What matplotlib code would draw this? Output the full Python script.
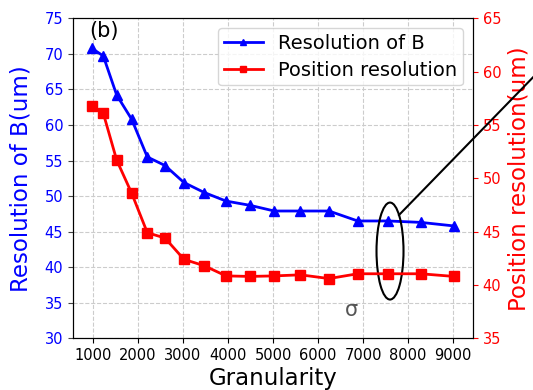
import matplotlib
matplotlib.use("Agg")
import matplotlib.pyplot as plt
from matplotlib.patches import Ellipse
from matplotlib.lines import Line2D

granularity = [971, 1229, 1527, 1860, 2207, 2600, 3022, 3473, 3956, 4489,
               5029, 5611, 6244, 6882, 7562, 8282, 9022]
res_B = [70.8, 69.7, 64.2, 60.8, 55.5, 54.3, 51.9, 50.5, 49.3, 48.7,
         47.9, 47.9, 47.9, 46.5, 46.5, 46.3, 45.8]
pos_res = [56.8, 56.1, 51.7, 48.6, 44.9, 44.4, 42.4, 41.8, 40.85, 40.8,
           40.85, 40.95, 40.6, 41.05, 41.05, 41.05, 40.8]
x_ticks = [1000, 2000, 3000, 4000, 5000, 6000, 7000, 8000, 9000]
left_ticks = [30, 35, 40, 45, 50, 55, 60, 65, 70, 75]
right_ticks = [35, 40, 45, 50, 55, 60, 65]

W, H = 533, 390
fig = plt.figure(figsize=(W / 100, H / 100), dpi=100)
ax = fig.add_axes([73 / W, 1 - 338.3 / H, 400 / W, 320 / H])
ax2 = ax.twinx()

l1, = ax.plot(granularity, res_B, color='blue', marker='^', markersize=7,
              linewidth=2, label='Resolution of B')
l2, = ax2.plot(granularity, pos_res, color='red', marker='s', markersize=7,
               linewidth=2, label='Position resolution')

ax.set_xlim(556, 9444)
ax.set_ylim(30, 75)
ax2.set_ylim(35, 65)
ax.set_xticks(x_ticks)
ax.set_yticks(left_ticks)
ax2.set_yticks(right_ticks)

ax.grid(True, linestyle='--', color='#cccccc', linewidth=0.8)
ax.tick_params(axis='x', labelsize=10.5)
ax.tick_params(axis='y', labelsize=10.5, colors='blue')
ax2.tick_params(axis='y', labelsize=10.5, colors='red')
ax.tick_params(axis='y', color='#444444')
ax2.tick_params(axis='y', color='red')

ax.set_xlabel('Granularity', fontsize=16.5, labelpad=3)
ax.set_ylabel('Resolution of B(um)', fontsize=16.5, color='blue')
ax2.set_ylabel('Position resolution(um)', fontsize=16.5, color='red')
ax.yaxis.set_label_coords(-0.1, 0.5)
ax2.yaxis.set_label_coords(1.0875, 0.5)

ax2.legend([l1, l2], ['Resolution of B', 'Position resolution'],
           loc='upper right', fontsize=14, markerscale=0.55, borderpad=0.3,
           labelspacing=0.4)

ax.text(0.04, 0.99, '(b)', transform=ax.transAxes, fontsize=15,
        ha='left', va='top')
ax.text(0.697, 0.088, 'σ', transform=ax.transAxes, fontsize=15,
        color='#555555', ha='center', va='center')

ell = Ellipse((7600, 43.18), width=600, height=9.09, fill=False,
              edgecolor='black', linewidth=1.5)
ax2.add_patch(ell)
line = Line2D([399 / W, 545 / W], [1 - 215 / H, 1 - 65 / H],
              transform=fig.transFigure, color='black', linewidth=1.5)
fig.add_artist(line)

fig.savefig('out.png', dpi=100)
